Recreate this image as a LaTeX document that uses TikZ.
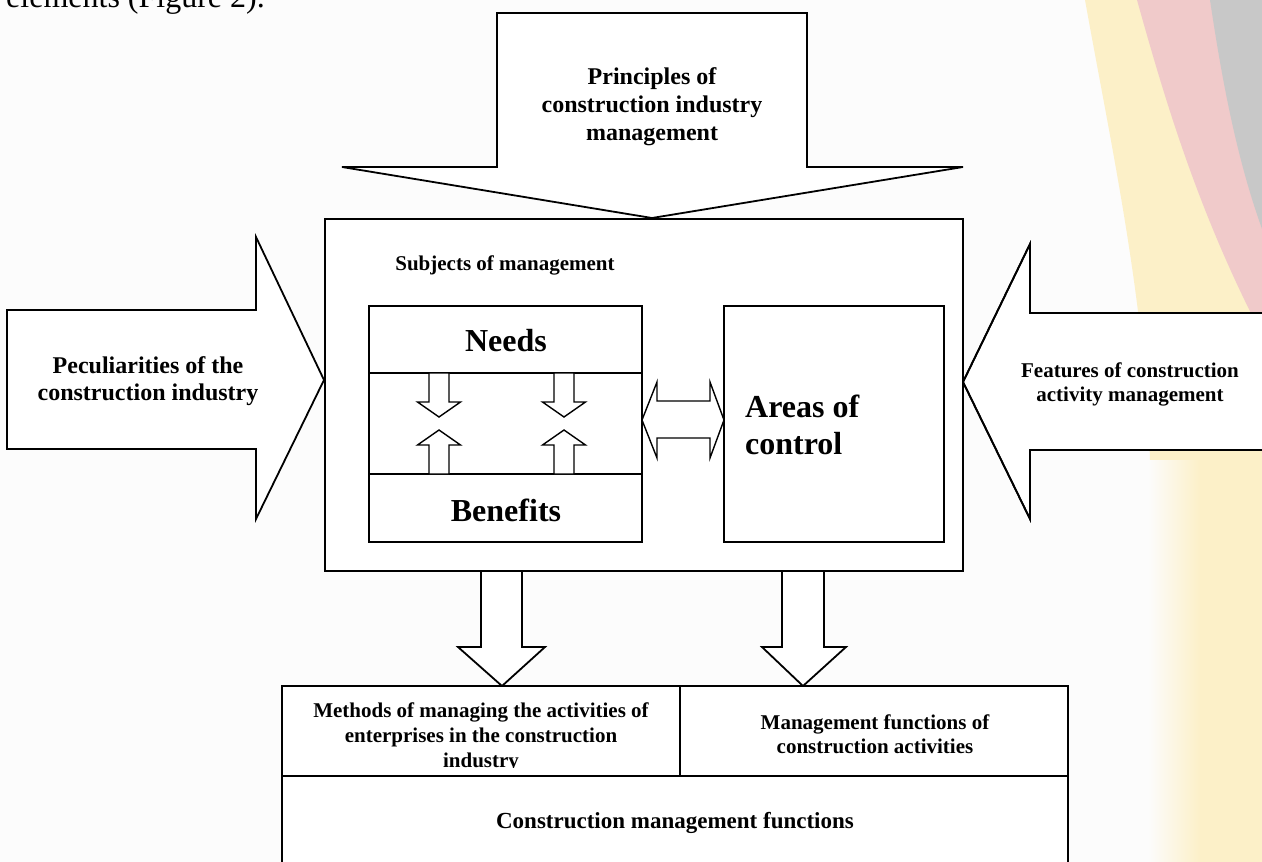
\documentclass[tikz,border=0pt]{standalone}
\usepackage{fontspec}
\setmainfont{Liberation Serif}
\newcommand\setfs[2]{\fontsize{#1}{#2}\selectfont}
\definecolor{bgc}{RGB}{252,252,252}
\definecolor{wyel}{RGB}{252,240,200}
\definecolor{wpnk}{RGB}{240,202,202}
\definecolor{wgry}{RGB}{200,200,200}
\begin{document}
\begin{tikzpicture}[x=1pt,y=-1pt,line join=miter,
  blk/.style={draw=black,line width=1.8pt,fill=white},
  thin/.style={draw=black,line width=1.4pt,fill=white},
  boxn/.style={draw=black,line width=1.8pt,fill=white,inner sep=0pt,outer sep=0pt,anchor=north west},
  ibox/.style={draw=black,line width=1.4pt,fill=white,inner sep=0pt,outer sep=0pt,anchor=north west},
  lbl/.style={inner sep=0pt,align=center},
]
\useasboundingbox (0,0) rectangle (1262,862);
\clip (0,0) rectangle (1262,862);
\fill[bgc] (0,0) rectangle (1262,862);
% watermark stripes
\fill[wyel] (1085,0) .. controls (1112,150) and (1145,300) .. (1150,460) -- (1150,870) -- (1270,870) -- (1270,0) -- cycle;
\shade[left color=bgc,right color=wyel] (1148,460) rectangle (1200,870);
\fill[wpnk] (1137,0) .. controls (1165,100) and (1200,220) .. (1270,350) -- (1270,0) -- cycle;
\fill[wgry] (1210,0) .. controls (1222,80) and (1238,170) .. (1270,250) -- (1270,0) -- cycle;
% clipped text at top left
\node[inner sep=0pt,anchor=base west,font=\setfs{32}{36}] (intro) at (6,7) {elements (Figure 2).};
% top arrow
\draw[blk] (497,13) -- (807,13) -- (807,167) -- (963,167) -- (652,218) -- (342,167) -- (497,167) -- cycle;
\node[lbl,font=\bfseries\setfs{24}{28}] (principles) at (652,107) {Principles of\\construction industry\\management};
% main box
\node[boxn,minimum width=638pt,minimum height=352pt] (main) at (325,219) {};
% left arrow
\draw[blk] (7,310) -- (256,310) -- (256,237) -- (324,380) -- (256,519) -- (256,449) -- (7,449) -- cycle;
\node[lbl,font=\bfseries\setfs{24}{27}] (pecul) at (148,381) {Peculiarities of the\\construction industry};
% right arrow
\draw[blk] (1275,313) -- (1030,313) -- (1030,244) -- (963,382) -- (1030,519) -- (1030,450) -- (1275,450);
\fill[white] (1275,314) -- (1031,314) -- (1031,247) -- (965,382) -- (1031,516) -- (1031,449) -- (1275,449) -- cycle;
\draw[line width=1.8pt] (1275,313) -- (1030,313) -- (1030,244) -- (963,382) -- (1030,519) -- (1030,450) -- (1275,450);
\node[lbl,font=\bfseries\setfs{21}{24}] (features) at (1130,384) {Features of construction\\activity management};
% subjects
\node[lbl,font=\bfseries\setfs{21}{24}] (subjects) at (505,265) {Subjects of management};
% needs / benefits box
\node[ibox,minimum width=273pt,minimum height=236pt] (nb) at (369,306) {};
\draw[line width=1.4pt] (369,373) -- (642,373);
\draw[line width=1.4pt] (369,474) -- (642,474);
\node[lbl,font=\bfseries\setfs{32}{36}] (needs) at (506,341) {Needs};
\node[lbl,font=\bfseries\setfs{32}{36}] (benefits) at (506,510) {Benefits};
% small arrows
\foreach \cx in {439,564}{
  \draw[thin] (\cx-10,373) -- (\cx+10,373) -- (\cx+10,402) -- (\cx+21.5,402) -- (\cx,417) -- (\cx-21.5,402) -- (\cx-10,402) -- cycle;
  \draw[thin] (\cx-10,474) -- (\cx+10,474) -- (\cx+10,445) -- (\cx+21.5,445) -- (\cx,430) -- (\cx-21.5,445) -- (\cx-10,445) -- cycle;
}
% areas of control
\node[ibox,minimum width=220pt,minimum height=236pt] (areas) at (724,306) {};
\node[inner sep=0pt,align=left,anchor=west,font=\bfseries\setfs{32}{37}] (areastxt) at (745,425) {Areas of\\control};
% double arrow
\draw[thin] (nb.east |- 0,420) -- (657,382) -- (657,401) -- (710,401) -- (710,382) -- (areas.west |- 0,420) -- (710,458) -- (710,438) -- (657,438) -- (657,458) -- cycle;
% down arrows from main box
\draw[blk] (481,571) -- (522,571) -- (522,647) -- (545,647) -- (502,686) -- (458,647) -- (481,647) -- cycle;
\draw[blk] (782,571) -- (824,571) -- (824,647) -- (846,647) -- (803,686) -- (762,647) -- (782,647) -- cycle;
% bottom box
\node[boxn,minimum width=786pt,minimum height=200pt] (bottom) at (282,686) {};
\draw[line width=1.8pt] (680,686) -- (680,776);
\draw[line width=1.8pt] (282,776) -- (1068,776);
\begin{scope}
\clip (284,688) rectangle (678,767);
\node[lbl,font=\bfseries\setfs{21}{25}] (methods) at (481,737) {Methods of managing the activities of\\enterprises in the construction\\industry};
\end{scope}
\node[lbl,font=\bfseries\setfs{21}{24}] (mfunc) at (875,734) {Management functions of\\construction activities};
\node[lbl,font=\bfseries\setfs{23}{27}] (cmf) at (675,823) {Construction management functions};
\end{tikzpicture}
\end{document}
